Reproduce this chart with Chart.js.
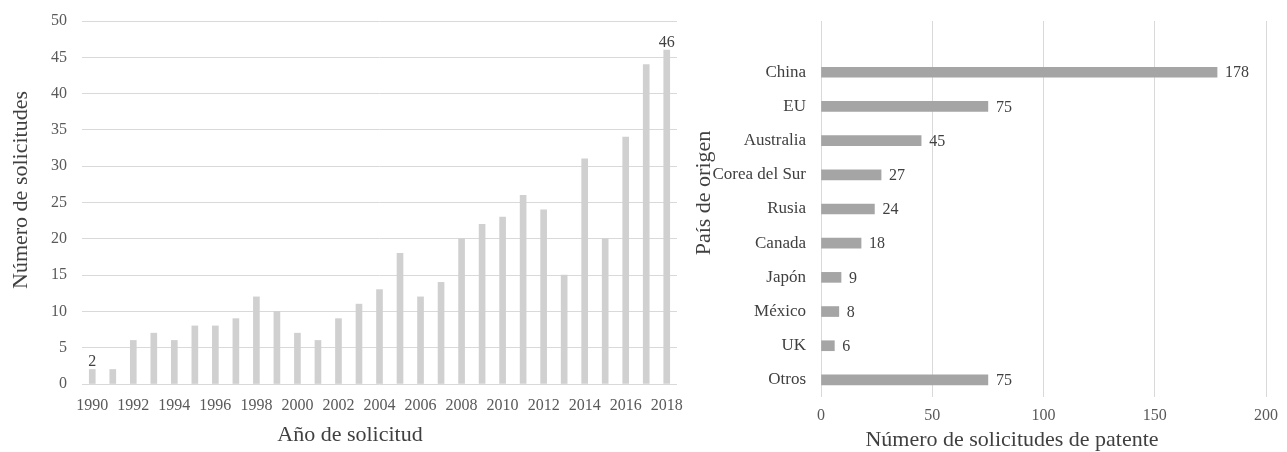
<!DOCTYPE html>
<html lang="es">
<head>
<meta charset="utf-8">
<title>Solicitudes de patente</title>
<script src="https://cdn.jsdelivr.net/npm/chart.js@4.4.1/dist/chart.umd.min.js"></script>
<style>
  html, body { margin: 0; padding: 0; background: #ffffff; }
  body { width: 1287px; height: 452px; position: relative; overflow: hidden; }
  .panel { position: absolute; top: 0; height: 452px; }
  .panel canvas { display: block; }
  #left { left: 0; width: 690px; }
  #right { left: 690px; width: 597px; }
</style>
</head>
<body>
<div class="panel" id="left"><canvas id="years" width="690" height="452"></canvas></div>
<div class="panel" id="right"><canvas id="countries" width="597" height="452"></canvas></div>
<script>
// Solicitudes por año
const years = ['1990','1991','1992','1993','1994','1995','1996','1997','1998','1999',
               '2000','2001','2002','2003','2004','2005','2006','2007','2008','2009',
               '2010','2011','2012','2013','2014','2015','2016','2017','2018'];
const yearCounts = [2, 2, 6, 7, 6, 8, 8, 9, 12, 10,
                    7, 6, 9, 11, 13, 18, 12, 14, 20, 22,
                    23, 26, 24, 15, 31, 20, 34, 44, 46];
const labeledYears = ['1990', '2018'];
const yearTicks = [0, 5, 10, 15, 20, 25, 30, 35, 40, 45, 50];

// Solicitudes por país de origen
const countries = ['China', 'EU', 'Australia', 'Corea del Sur', 'Rusia',
                   'Canada', 'Japón', 'México', 'UK', 'Otros'];
const countryCounts = [178, 75, 45, 27, 24, 18, 9, 8, 6, 75];
const countryTicks = [0, 50, 100, 150, 200];

const SERIF = "'Liberation Serif', 'Times New Roman', serif";
const GRID = '#d9d9d9';
const TICK = '#595959';
const DARK = '#404040';

// Draws axis titles and value labels on top of each chart
const annotate = {
  id: 'annotate',
  afterDatasetsDraw(chart, args, opts) {
    const ctx = chart.ctx;
    const meta = chart.getDatasetMeta(0);
    const ds = chart.data.datasets[0];
    ctx.save();
    ctx.fillStyle = DARK;
    ctx.font = '16px ' + SERIF;
    meta.data.forEach((bar, i) => {
      const v = ds.data[i];
      if (v == null) return;
      const label = chart.data.labels[i];
      if (opts.horizontal) {
        ctx.textAlign = 'left';
        ctx.textBaseline = 'middle';
        ctx.fillText(String(v), bar.x + 8, bar.y + 1);
      } else if (opts.labeled.includes(label)) {
        ctx.textAlign = 'center';
        ctx.textBaseline = 'alphabetic';
        ctx.fillText(String(v), bar.x, bar.y - 3);
      }
    });
    // axis titles
    ctx.font = '22px ' + SERIF;
    ctx.fillStyle = DARK;
    ctx.textAlign = 'center';
    ctx.textBaseline = 'alphabetic';
    ctx.fillText(opts.xTitle, opts.xTitlePos[0], opts.xTitlePos[1]);
    ctx.translate(opts.yTitlePos[0], opts.yTitlePos[1]);
    ctx.rotate(-Math.PI / 2);
    ctx.textBaseline = 'middle';
    ctx.fillText(opts.yTitle, 0, 0);
    ctx.restore();
  }
};

// the vertical axes keep their width fixed and let layout padding set the top edge
const fixWidth = (w) => (s) => { s.width = w; s.paddingTop = 0; s.paddingBottom = 0; };

new Chart(document.getElementById('years'), {
  type: 'bar',
  data: {
    labels: years,
    datasets: [{
      data: yearCounts,
      backgroundColor: '#d0d0d0',
      barThickness: 6
    }]
  },
  options: {
    responsive: false,
    animation: false,
    events: [],
    layout: { padding: { left: 0, right: 13, top: 21, bottom: 0 } },
    plugins: {
      legend: { display: false },
      tooltip: { enabled: false },
      annotate: {
        horizontal: false,
        labeled: labeledYears,
        xTitle: 'Año de solicitud',
        xTitlePos: [350, 441],
        yTitle: 'Número de solicitudes',
        yTitlePos: [21, 190]
      }
    },
    scales: {
      x: {
        grid: { display: false },
        border: { display: false },
        ticks: {
          autoSkip: false,
          maxRotation: 0,
          minRotation: 0,
          color: TICK,
          padding: 4,
          font: { family: SERIF, size: 16 },
          callback: (v, i) => (i % 2 === 0 ? years[i] : '')
        },
        afterFit: (s) => { s.height = 452 - 384; }
      },
      y: {
        min: 0,
        max: 50,
        afterBuildTicks: (s) => { s.ticks = yearTicks.map(v => ({ value: v })); },
        grid: { color: GRID, lineWidth: 1, drawTicks: false },
        border: { display: false },
        ticks: {
          color: TICK,
          padding: 15,
          font: { family: SERIF, size: 16 }
        },
        afterFit: fixWidth(82)
      }
    }
  },
  plugins: [annotate]
});

new Chart(document.getElementById('countries'), {
  type: 'bar',
  data: {
    labels: [''].concat(countries),
    datasets: [{
      data: [null].concat(countryCounts),
      backgroundColor: '#a5a5a5',
      barThickness: 10
    }]
  },
  options: {
    indexAxis: 'y',
    responsive: false,
    animation: false,
    events: [],
    layout: { padding: { left: 0, right: 15, top: 21, bottom: 0 } },
    plugins: {
      legend: { display: false },
      tooltip: { enabled: false },
      annotate: {
        horizontal: true,
        labeled: countries,
        xTitle: 'Número de solicitudes de patente',
        xTitlePos: [322, 446],
        yTitle: 'País de origen',
        yTitlePos: [14, 193]
      }
    },
    scales: {
      x: {
        min: 0,
        max: 200,
        afterBuildTicks: (s) => { s.ticks = countryTicks.map(v => ({ value: v })); },
        grid: { color: GRID, lineWidth: 1, drawTicks: false },
        border: { display: false },
        ticks: {
          color: TICK,
          padding: 9,
          maxRotation: 0,
          font: { family: SERIF, size: 16 }
        },
        afterFit: (s) => { s.height = 452 - 397; }
      },
      y: {
        grid: { display: false },
        border: { display: false },
        ticks: {
          autoSkip: false,
          color: DARK,
          padding: 7,
          font: { family: SERIF, size: 17 }
        },
        afterFit: fixWidth(131)
      }
    }
  },
  plugins: [annotate]
});
</script>
</body>
</html>
